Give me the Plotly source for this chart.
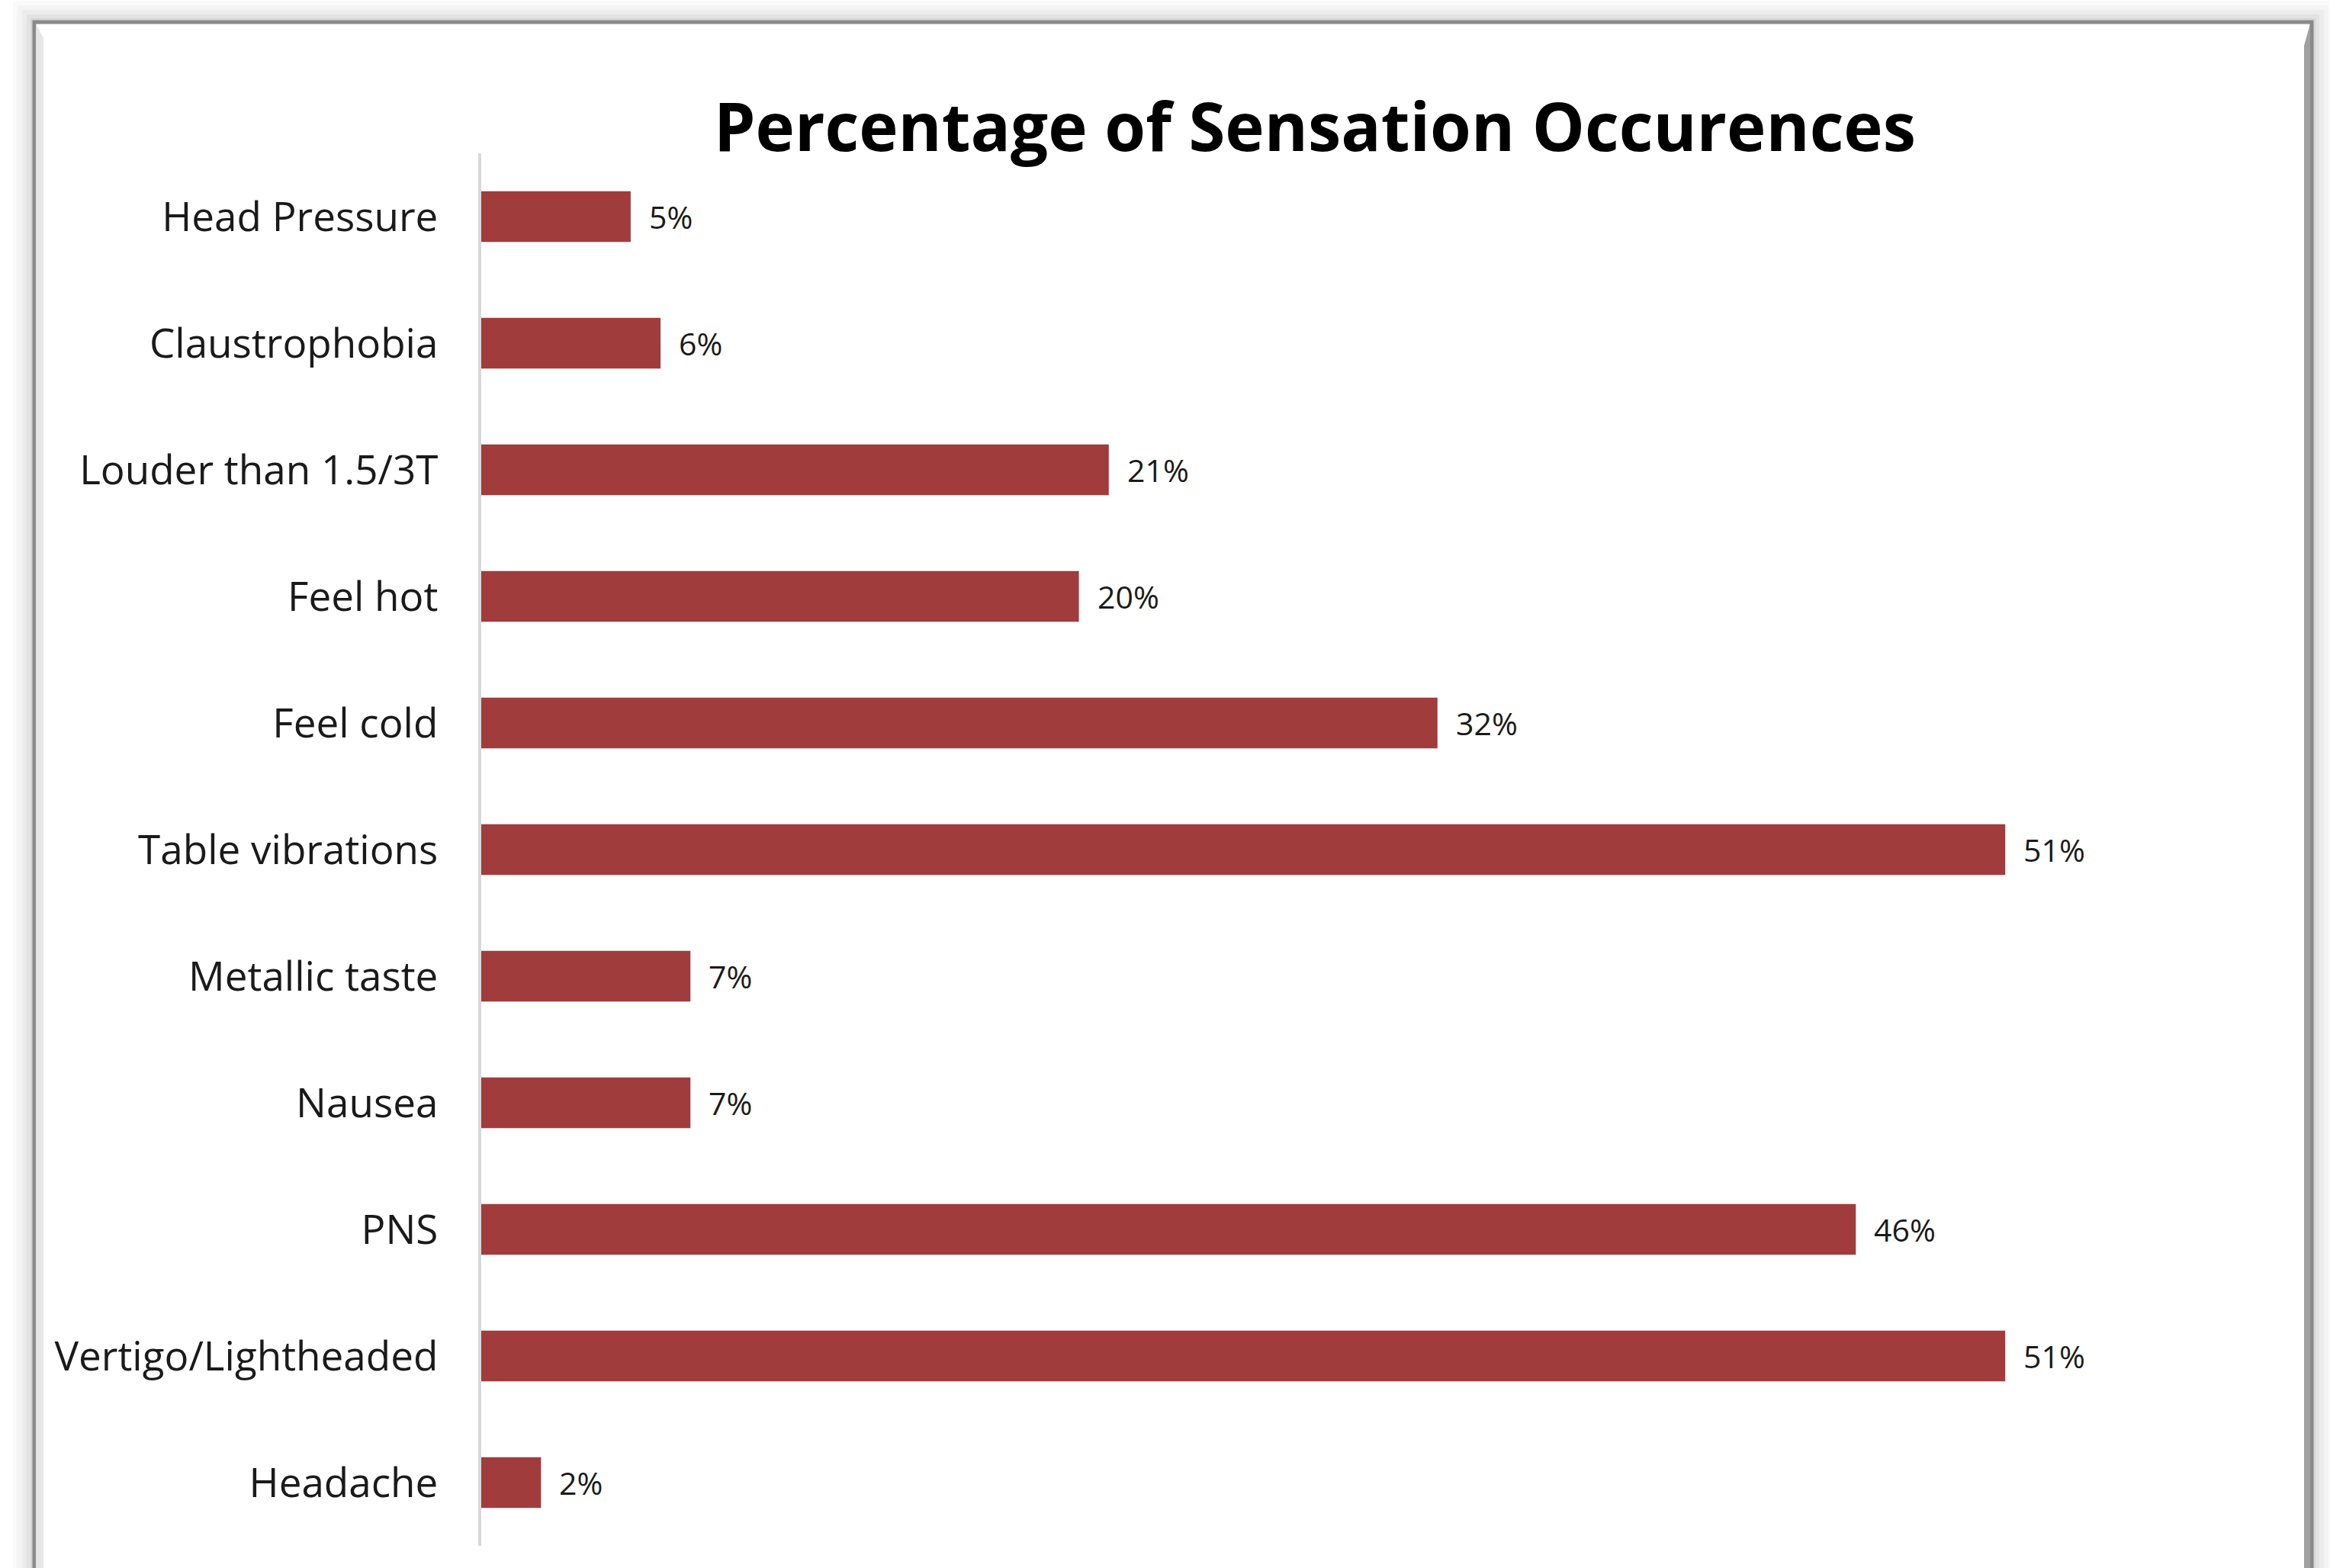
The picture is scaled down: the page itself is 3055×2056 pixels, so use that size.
import plotly.graph_objects as go

categories = ["Head Pressure", "Claustrophobia", "Louder than 1.5/3T", "Feel hot", "Feel cold",
              "Table vibrations", "Metallic taste", "Nausea", "PNS", "Vertigo/Lightheaded", "Headache"]
values = [5, 6, 21, 20, 32, 51, 7, 7, 46, 51, 2]
title_text = "Percentage of Sensation Occurences"

W, H = 3055, 2056
ML, MR, MT, MB = 631, 73, 201, 29
PW, PH = W - ML - MR, H - MT - MB

def px(x):
    return (x - ML) / PW

def py(y):
    return (H - MB - y) / PH

BAR = "#A03C3B"
FONT = "Open Sans"

fig = go.Figure()
fig.add_trace(go.Bar(
    x=values, y=categories, orientation="h", width=0.4,
    marker=dict(color=BAR, line=dict(width=0)),
    hoverinfo="skip",
))

for c, v in zip(categories, values):
    fig.add_annotation(x=v, y=c, xref="x", yref="y", text=f"{v}%", showarrow=False,
                       xanchor="left", yanchor="middle", xshift=22,
                       font=dict(family=FONT, size=41, color="#1a1a1a"))

shapes = []
# soft outer shadow
for d, a in [(28, 0.018), (22, 0.022), (16, 0.03), (10, 0.04), (5, 0.05)]:
    shapes.append(dict(type="rect", xref="paper", yref="paper", layer="below",
                       x0=px(45 - d), x1=px(3031 + d), y0=py(2100), y1=py(29 - d),
                       fillcolor=f"rgba(0,0,0,{a})", line=dict(width=0)))
# frame
shapes.append(dict(type="rect", xref="paper", yref="paper", layer="below",
                   x0=px(45), x1=px(3031), y0=py(2100), y1=py(29),
                   fillcolor="white", line=dict(color="#8a8a8a", width=5)))
# inner bevel strips
shapes.append(dict(type="path", xref="paper", yref="paper", layer="below",
                   path=f"M {px(47)} {py(31)} L {px(57)} {py(50)} L {px(57)} {py(2100)} L {px(47)} {py(2100)} Z",
                   fillcolor="#e6e6e6", line=dict(width=0)))
shapes.append(dict(type="path", xref="paper", yref="paper", layer="below",
                   path=f"M {px(3029)} {py(31)} L {px(3021)} {py(60)} L {px(3021)} {py(2100)} L {px(3029)} {py(2100)} Z",
                   fillcolor="#a0a0a0", line=dict(width=0)))

fig.update_layout(
    width=W, height=H,
    margin=dict(l=ML, r=MR, t=MT, b=MB, pad=0),
    paper_bgcolor="white", plot_bgcolor="rgba(0,0,0,0)",
    showlegend=False,
    bargap=0.6,
    shapes=shapes,
    title=dict(text=f"<b>{title_text}</b>", x=1724 / W, xref="container", xanchor="center",
               y=1 - 168 / H, yref="container", yanchor="middle",
               font=dict(family=FONT, size=87, color="#000000")),
    xaxis=dict(range=[0, PW / 39.18], showgrid=False, zeroline=False, showline=False,
               showticklabels=False, ticks=""),
    yaxis=dict(type="category", categoryorder="array", categoryarray=categories,
               range=[len(categories) - 0.5, -0.5],
               showgrid=False, zeroline=False, showline=True, linecolor="#d9d9d9", linewidth=4,
               ticks="outside", ticklen=42, tickcolor="rgba(0,0,0,0)",
               tickfont=dict(family=FONT, size=53, color="#1a1a1a")),
)

fig.write_html("out.html")
